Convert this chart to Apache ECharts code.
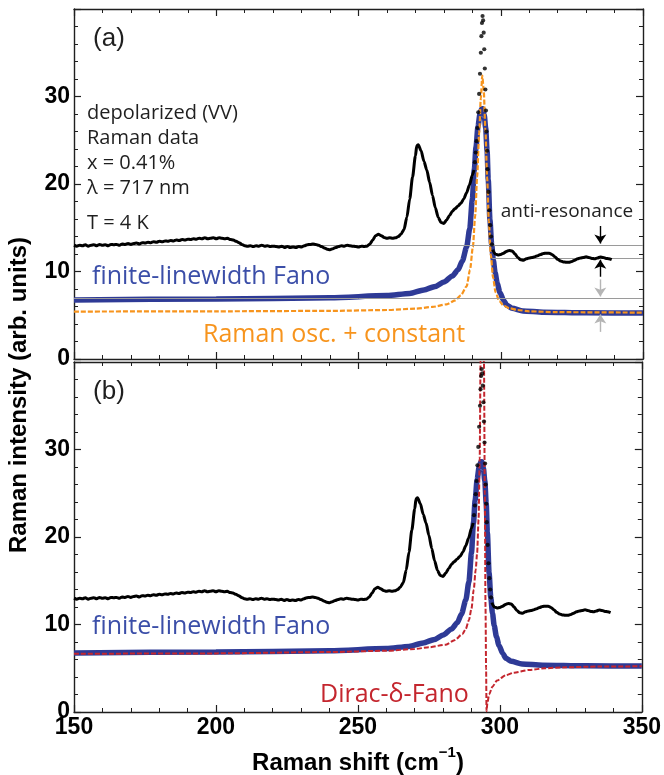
<!DOCTYPE html>
<html>
<head>
<meta charset="utf-8">
<script src="https://cdn.jsdelivr.net/npm/echarts@6/dist/echarts.min.js"></script>
<style>
  html, body { margin: 0; padding: 0; background: #fff; }
  #chart { width: 664px; height: 775px; }
</style>
</head>
<body>
<div id="chart"></div>
<script>
var measured = [
  [150,13.0],[151,12.9],[152,13.0],[153,12.95],[154,13.05],[155,12.9],[156,13.0],[157,13.05],[158,12.95],[159,13.1],
  [160,13.0],[161,13.05],[162,12.95],[163,13.1],[164,13.05],[165,13.1],[166,13.0],[167,13.15],[168,13.1],[169,13.2],
  [170,13.1],[171,13.2],[172,13.25],[173,13.15],[174,13.3],[175,13.25],[176,13.35],[177,13.3],[178,13.4],[179,13.35],
  [180,13.45],[181,13.4],[182,13.5],[183,13.45],[184,13.55],[185,13.5],[186,13.6],[187,13.55],[188,13.65],[189,13.6],
  [190,13.7],[191,13.65],[192,13.75],[193,13.7],[194,13.8],[195,13.75],[196,13.85],[197,13.75],[198,13.8],[199,13.85],
  [200,13.75],[201,13.85],[202,13.8],[203,13.75],[204,13.8],[205,13.65],[206,13.6],[207,13.45],[208,13.3],[209,13.1],
  [210,12.95],[211,12.9],[212,12.95],[213,12.85],[214,12.95],[215,12.9],[216,13.0],[217,12.9],[218,12.95],[219,12.85],
  [220,12.9],[221,12.85],[222,12.8],[223,12.9],[224,12.75],[225,12.85],[226,12.75],[227,12.8],[228,12.75],[229,12.85],
  [230,12.8],[231,12.95],[232,13.05],[233,13.1],[234,13.15],[235,13.1],[236,13.0],[237,12.85],[238,12.7],[239,12.55],
  [240,12.5],[241,12.6],[242,12.75],[243,12.85],[244,12.95],[245,12.9],[246,13.0],[247,12.95],[248,12.9],[249,12.85],
  [250,12.8],[251,12.9],[252,12.85],[253,12.9],[254,13.15],[255,13.6],[256,14.1],[257,14.25],[258,14.1],[259,13.9],
  [260,13.8],[261,13.85],[262,13.8],[263,13.85],[264,14.0],[265,14.3],[266,14.8],[267,16.2],[268,18.3],[269,20.8],
  [270,23.2],[270.5,24.4],[271,24.5],[272,23.8],[273,22.6],[274,21.6],[275,20.2],[276,18.7],[277,17.3],[278,16.2],
  [279,15.6],[280,15.5],[281,15.9],[282,16.4],[283,16.9],[284,17.2],[285,17.5],[286,17.8],[287,18.3],[288,19.0],
  [289,19.9],[290,21.0],[290.6,21.6],
  [290.9,22.5],[291.2,23.6],[291.5,24.9],[291.8,26.4],[292.1,28.2],[292.4,30.3],[292.7,32.6],[293.0,35.0],
  [293.2,36.9],[293.4,38.4],[293.6,39.2],[293.8,38.7],[294.0,37.3],[294.2,35.4],[294.4,33.2],[294.6,30.8],
  [294.8,28.4],[295.0,26.0],[295.2,23.8],[295.4,21.7],[295.7,19.1],[296.0,17.0],[296.3,15.3],[296.6,14.0],
  [296.9,13.1],[297.2,12.5],
  [297.6,12.2],[298,12.0],[299,11.9],[300,11.95],[301,12.1],[302,12.3],[303,12.4],[304,12.35],[305,12.0],[306,11.6],
  [307,11.35],[308,11.3],[309,11.45],[310,11.55],[311,11.6],[312,11.7],[313,11.8],[314,11.95],[315,12.05],[316,12.1],
  [317,12.1],[318,11.95],[319,11.7],[320,11.4],[321,11.2],[322,11.1],[323,11.05],[324,11.05],[325,11.15],[326,11.3],
  [327,11.45],[328,11.55],[329,11.6],[330,11.7],[331,11.6],[332,11.5],[333,11.45],[334,11.55],[335,11.65],[336,11.6],
  [337,11.5],[338,11.45],[339,11.35]
];
// peak region drawn as separate dots
var peakFrom = 290.6, peakTo = 297.2;

// finite-linewidth Fano fit
var fanoFinite = [
  [150,6.75],[200,6.85],[240,7.0],[260,7.25],[268,7.5],[273,7.9],[277,8.3],[280,8.8],[283,9.5],[285,10.2],
  [286.5,11.2],[288,12.8],[289.1,14.9],[290.0,18.2],[290.7,21.6],[291.3,24.2],[292,26.6],[292.7,28.0],[293.3,28.6],
  [293.7,28.6],[294.2,27.9],[294.7,26.4],[295.2,23.8],[295.6,20.5],[296.2,15.9],[296.8,13.1],[297.4,11.3],[298,9.9],
  [298.8,8.6],[299.7,7.6],[301,6.7],[302.1,6.15],[304,5.8],[307.8,5.5],[315,5.35],[330,5.28],[350,5.25]
];
// Raman oscillator + constant
var ramanOsc = [
  [150,5.42],[200,5.45],[240,5.5],[260,5.6],[270,5.75],[276,5.95],[281,6.25],[284,6.7],[286,7.3],[288,8.3],
  [289.2,10.2],[290.2,12.8],[291,16.3],[291.7,20.8],[292.4,25.8],[293,29.8],[293.5,32.4],[294,30.8],[294.6,26.3],
  [295.2,20.8],[295.8,15.8],[296.5,11.9],[297.3,9.3],[298.2,7.6],[299.5,6.6],[301,6.1],[303,5.8],[306,5.6],
  [310,5.45],[320,5.35],[350,5.3]
];
// Dirac-delta Fano
var diracFano = [
  [150,6.65],[200,6.7],[240,6.85],[260,7.0],[270,7.2],[275,7.4],[281,7.7],[284,8.2],[286.8,8.9],[288,9.5],
  [289.1,10.5],[290,11.8],[290.8,14.0],[291.5,16.3],[292.0,18.2],[292.5,22.0],[292.9,29.0],[293.2,40],[293.4,60],
  [293.6,95],[294.0,62],[294.4,40],[294.7,25],[294.95,12],[295.15,5],[295.3,0.1],[295.6,1.0],[296.2,2.0],
  [297.4,2.9],[299,3.6],[302.1,4.2],[305,4.5],[310.3,4.8],[316,5.0],[322,5.1],[335,5.2],[350,5.22]
];
// horizontal guide levels in panel (a) and where they start
var guideLevels = [13.05, 11.55, 7.0];
var guideStarts = [150, 297, 150];
// arrows at x = 335: [from, to]
var arrowX = 335;
var arrowSpans = [[15.2, 13.2], [9.4, 11.35], [9.1, 7.15], [3.1, 5.1]];

var xMin = 150, xMax = 350, yMin = 0, yMax = 40;

var LEFT = 74, WIDTH = 569, HEIGHT = 350;
var ink = '#1f1f1f';
var blue = '#2e3a96', blueText = '#3b4ea8', orange = '#f7941d', red = '#c4262e';
var textFont = '"Open Sans", sans-serif';
var axisFont = '"Liberation Sans", Arial, sans-serif';

var myChart = echarts.init(document.getElementById('chart'));

function xAxis(grid, pos, labels) {
    return {
        type: 'value', gridIndex: grid, position: pos, min: xMin, max: xMax, interval: 50,
        axisLine: {show: true, onZero: false, lineStyle: {color: ink, width: 1.4}},
        axisTick: {show: true, inside: true, length: 7, lineStyle: {color: ink, width: 1.2}},
        minorTick: {show: true, splitNumber: 5, length: 4, lineStyle: {color: ink, width: 1}},
        splitLine: {show: false},
        axisLabel: {show: labels, margin: 4, color: '#000', fontSize: 23, fontWeight: 'bold', fontFamily: axisFont}
    };
}
function yAxis(grid, pos, labels) {
    return {
        type: 'value', gridIndex: grid, position: pos, min: yMin, max: yMax, interval: 10,
        axisLine: {show: true, onZero: false, lineStyle: {color: ink, width: 1.4}},
        axisTick: {show: true, inside: true, length: 7, lineStyle: {color: ink, width: 1.2}},
        minorTick: {show: true, splitNumber: 5, length: 4, lineStyle: {color: ink, width: 1}},
        splitLine: {show: false},
        axisLabel: {
            show: labels, margin: 4, color: '#000', fontSize: 23, fontWeight: 'bold', fontFamily: axisFont,
            formatter: function (v) { return v === 40 ? '' : v; }
        }
    };
}

function curve(data, panel, color, width, type, z) {
    return {
        type: 'line', data: data, xAxisIndex: panel * 2, yAxisIndex: panel * 2,
        symbol: 'none', showSymbol: false, smooth: 0.25, smoothMonotone: 'x', clip: true, z: z,
        lineStyle: {color: color, width: width, type: type}
    };
}

var measuredLeft = measured.filter(function (p) { return p[0] <= peakFrom; });
var measuredRight = measured.filter(function (p) { return p[0] >= peakTo; });
var measuredPeak = measured.filter(function (p) { return p[0] > peakFrom && p[0] < peakTo; });

function measuredSeries(panel) {
    return [
        curve(measuredLeft, panel, '#000', 3, 'solid', 6),
        curve(measuredRight, panel, '#000', 3, 'solid', 6),
        {
            type: 'scatter', data: measuredPeak, xAxisIndex: panel * 2, yAxisIndex: panel * 2,
            symbolSize: 4.2, itemStyle: {color: '#000'}, z: 6
        }
    ];
}

// guide lines and arrows of panel (a)
var guideData = guideLevels.map(function (v, i) {
    return [{coord: [guideStarts[i], v]}, {coord: [xMax, v]}];
});
var arrowData = arrowSpans.map(function (s, i) {
    return [{coord: [arrowX, s[0]], lineStyle: {color: i < 2 ? '#000' : '#b5b5b5', width: 1.4, type: 'solid'},
             itemStyle: {color: i < 2 ? '#000' : '#b5b5b5'}},
            {coord: [arrowX, s[1]]}];
});

var series = [
    {
        type: 'line', data: [], xAxisIndex: 0, yAxisIndex: 0, z: 1,
        markLine: {
            silent: true, symbol: 'none', animation: false,
            lineStyle: {color: '#9a9a9a', width: 1, type: 'solid'}, label: {show: false},
            data: guideData
        }
    },
    {
        type: 'line', data: [], xAxisIndex: 0, yAxisIndex: 0, z: 7,
        markLine: {
            silent: true, symbol: ['none', 'arrow'], symbolSize: 9, animation: false,
            lineStyle: {type: 'solid'}, label: {show: false}, data: arrowData
        }
    },
    curve(fanoFinite, 0, blue, 5.5, 'solid', 3),
    curve(ramanOsc, 0, orange, 2.2, [5, 2], 4),
    curve(fanoFinite, 1, blue, 5.5, 'solid', 3),
    curve(diracFano, 1, red, 2, [5, 2], 4)
].concat(measuredSeries(0), measuredSeries(1));

function label(text, x, y, size, color, font, align) {
    return {
        type: 'text', x: x, y: y, z: 20,
        style: {text: text, fill: color, font: size + 'px ' + font, align: align || 'left', verticalAlign: 'middle'}
    };
}

var option = {
    animation: false,
    backgroundColor: '#fff',
    grid: [
        {left: LEFT, top: 9, width: WIDTH, height: HEIGHT},
        {left: LEFT, top: 362, width: WIDTH, height: HEIGHT}
    ],
    xAxis: [xAxis(0, 'bottom', false), xAxis(0, 'top', false), xAxis(1, 'bottom', true), xAxis(1, 'top', false)],
    yAxis: [yAxis(0, 'left', true), yAxis(0, 'right', false), yAxis(1, 'left', true), yAxis(1, 'right', false)],
    series: series,
    graphic: [
        label('(a)', 109, 39, 26, ink, axisFont, 'center'),
        label('(b)', 109, 392, 26, ink, axisFont, 'center'),
        label('depolarized (VV)', 87, 113, 20, ink, textFont),
        label('Raman data', 87, 138, 20, ink, textFont),
        label('x = 0.41%', 87, 163, 20, ink, textFont),
        label('\u03bb = 717 nm', 87, 188, 20, ink, textFont),
        label('T = 4 K', 87, 223, 20, ink, textFont),
        label('anti-resonance', 567, 212, 19, ink, textFont, 'center'),
        label('finite-linewidth Fano', 92, 277, 25, blueText, textFont),
        label('Raman osc. + constant', 203, 335, 25, orange, textFont),
        label('finite-linewidth Fano', 92, 627, 25, blueText, textFont),
        label('Dirac-\u03b4-Fano', 320, 695, 25, red, textFont),
        {
            type: 'text', x: 19, y: 395, rotation: Math.PI / 2, z: 20,
            style: {
                text: 'Raman intensity (arb. units)', fill: '#000', align: 'center', verticalAlign: 'middle',
                font: 'bold 24px ' + axisFont
            }
        },
        {
            type: 'text', x: 358, y: 760, z: 20,
            style: {
                text: '{a|Raman shift (cm}{s|\u22121}{a|)}', align: 'center', verticalAlign: 'middle',
                rich: {
                    a: {fontSize: 24, fontWeight: 'bold', fontFamily: axisFont, color: '#000', lineHeight: 30, verticalAlign: 'bottom'},
                    s: {fontSize: 15, fontWeight: 'bold', fontFamily: axisFont, color: '#000', lineHeight: 30, verticalAlign: 'top'}
                }
            }
        }
    ]
};

myChart.setOption(option);
</script>
</body>
</html>
